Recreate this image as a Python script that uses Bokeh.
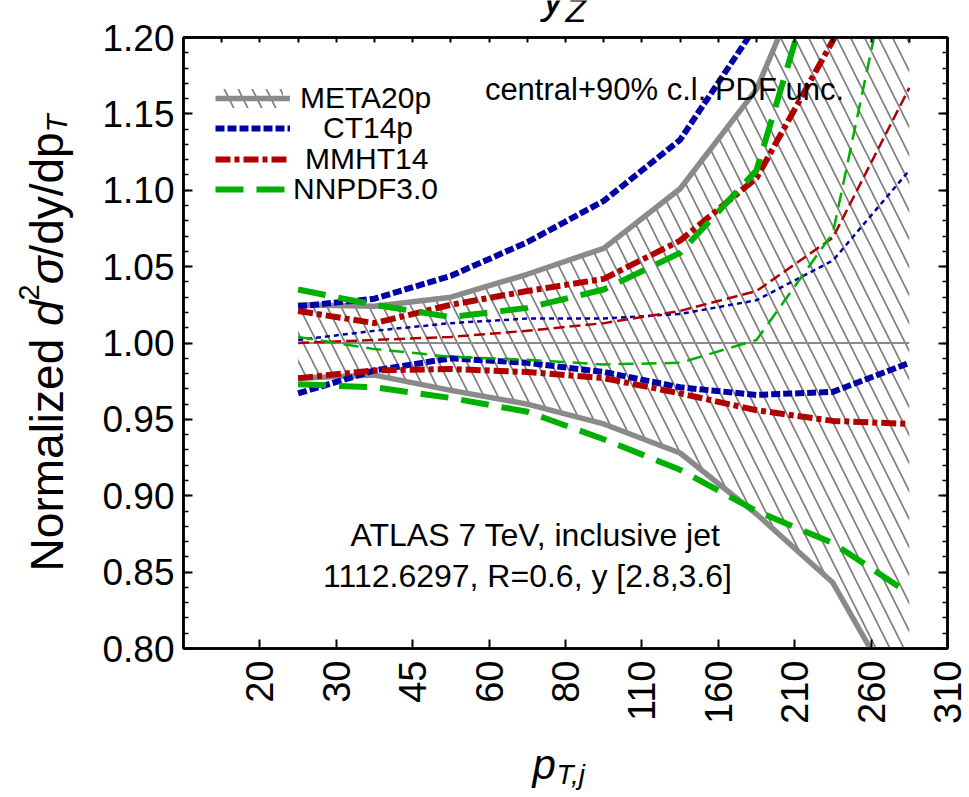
import math
from bokeh.plotting import figure
from bokeh.layouts import column, row
from bokeh.models import (Range1d, LinearAxis, FixedTicker, PrintfTickFormatter,
                          CustomJSTickFormatter, Label, Legend, LegendItem)
from bokeh.embed import file_html
from bokeh.resources import INLINE

# ---------------- data ----------------
pt_edge_labels = ["20", "30", "45", "60", "80", "110", "160", "210", "260", "310"]
edge_index = [1, 2, 3, 4, 5, 6, 7, 8, 9, 10]
bin_pos = [1.5, 2.5, 3.5, 4.5, 5.5, 6.5, 7.5, 8.5, 9.5]   # bin centres between edges

meta_central = [1.000, 1.000, 1.000, 1.000, 1.000, 1.000, 1.000, 1.000, 1.000]
meta_upper   = [1.025, 1.024, 1.030, 1.045, 1.062, 1.101, 1.166, 1.284, 1.400]
meta_lower   = [0.977, 0.979, 0.969, 0.960, 0.947, 0.928, 0.888, 0.843, 0.755]

ct14_central = [1.002, 1.008, 1.013, 1.016, 1.016, 1.019, 1.028, 1.054, 1.113]
ct14_upper   = [1.024, 1.029, 1.044, 1.066, 1.093, 1.133, 1.208, 1.300, 1.400]
ct14_lower   = [0.967, 0.982, 0.990, 0.987, 0.981, 0.971, 0.966, 0.968, 0.987]

mmht_central = [1.000, 1.002, 1.004, 1.008, 1.013, 1.021, 1.034, 1.069, 1.167]
mmht_upper   = [1.021, 1.013, 1.025, 1.034, 1.042, 1.067, 1.108, 1.198, 1.320]
mmht_lower   = [0.977, 0.982, 0.983, 0.981, 0.977, 0.967, 0.956, 0.949, 0.947]

nnpdf_central = [1.004, 0.996, 0.991, 0.989, 0.986, 0.987, 1.002, 1.072, 1.310]
nnpdf_upper   = [1.035, 1.025, 1.017, 1.023, 1.035, 1.059, 1.113, 1.280, 1.400]
nnpdf_lower   = [0.973, 0.971, 0.964, 0.955, 0.937, 0.917, 0.890, 0.869, 0.836]

y_major_ticks = [0.80, 0.85, 0.90, 0.95, 1.00, 1.05, 1.10, 1.15, 1.20]
y_minor_ticks = [round(0.80 + 0.01 * k, 2) for k in range(41)]
top_ticks = [0.5 * k for k in range(1, 20)]

# ---------------- geometry (page pixels) ----------------
W, H = 969, 797
TOP_H = 22          # strip holding the (cut) title
BOT_H = 59          # strip holding the x-axis title
LEFT_W = 93         # strip holding the y-axis title
MAIN_W, MAIN_H = W - LEFT_W, H - TOP_H - BOT_H
FL, FR, FT, FB = 183, 947, 37, 648      # frame edges on the page
X0, X1, Y0, Y1 = 0.0, 10.0, 0.80, 1.20
FW, FH = FR - FL, FB - FT
BASE_K = 0.36       # correction: rendered baseline sits lower than requested

def dx(px):
    return X0 + (px - FL) / FW * (X1 - X0)

def dy(py):
    return Y1 - (py - FT) / FH * (Y1 - Y0)

FONT = "Liberation Sans"
GRAY, BLUE, RED, GREEN = "#8a8a8a", "#0000a8", "#b00000", "#00b000"

p = figure(width=MAIN_W, height=MAIN_H, x_range=Range1d(X0, X1), y_range=Range1d(Y0, Y1),
           output_backend="svg", toolbar_location=None,
           x_axis_location=None, y_axis_location=None,
           min_border_left=FL - LEFT_W, min_border_right=W - FR,
           min_border_top=FT - TOP_H, min_border_bottom=(H - BOT_H) - FB)
p.outline_line_color = "black"
p.outline_line_width = 2.5
p.background_fill_color = "white"
p.border_fill_color = "white"
p.grid.grid_line_color = None
p.grid.visible = False

def style(ax, maj, mnr):
    ax.axis_line_color = "black"
    ax.axis_line_width = 2.5
    ax.major_tick_in = maj
    ax.major_tick_out = 0
    ax.minor_tick_in = mnr
    ax.minor_tick_out = 0
    ax.major_tick_line_width = 2
    ax.minor_tick_line_width = 1.5
    ax.major_tick_line_color = "black"
    ax.minor_tick_line_color = "black"

def blank_axis(ax):
    ax.formatter = CustomJSTickFormatter(code="return ''")
    ax.major_label_text_font_size = "0px"
    ax.major_label_standoff = 0

left = LinearAxis(ticker=FixedTicker(ticks=y_major_ticks, minor_ticks=y_minor_ticks),
                  formatter=PrintfTickFormatter(format="%.2f"))
style(left, 9, 5)
left.major_label_text_font = FONT
left.major_label_text_font_size = "37px"
left.major_label_text_color = "black"
left.major_label_standoff = 9
p.add_layout(left, "left")

right = LinearAxis(ticker=FixedTicker(ticks=y_major_ticks, minor_ticks=y_minor_ticks))
style(right, 9, 5)
blank_axis(right)
p.add_layout(right, "right")

bottom = LinearAxis(ticker=FixedTicker(ticks=edge_index, minor_ticks=[]),
                    major_label_overrides={i: s for i, s in zip(edge_index, pt_edge_labels)})
style(bottom, 9, 0)
bottom.major_label_orientation = math.pi / 2
bottom.major_label_text_font = FONT
bottom.major_label_text_font_size = "38px"
bottom.major_label_text_color = "black"
bottom.major_label_standoff = 12
p.add_layout(bottom, "below")

top = LinearAxis(ticker=FixedTicker(ticks=top_ticks, minor_ticks=[]))
style(top, 5, 0)
blank_axis(top)
p.add_layout(top, "above")

# ---------------- glyphs ----------------
hatch = p.varea(x=bin_pos, y1=meta_lower, y2=meta_upper, fill_color=None, fill_alpha=0,
                hatch_pattern="\\", hatch_color="#808080", hatch_scale=28, hatch_weight=1.7)

def ln(ys, color, width, dash):
    return p.line(bin_pos, ys, line_color=color, line_width=width, line_dash=dash,
                  line_cap="butt", line_join="round")

g_c = ln(meta_central, GRAY, 2.2, "solid")
g_u = ln(meta_upper, GRAY, 5.5, "solid")
g_l = ln(meta_lower, GRAY, 5.5, "solid")

b_c = ln(ct14_central, BLUE, 2.5, "5 4")
b_u = ln(ct14_upper, BLUE, 6, "9 3")
b_l = ln(ct14_lower, BLUE, 6, "9 3")

r_c = ln(mmht_central, RED, 2.5, "11 5")
r_u = ln(mmht_upper, RED, 6, "15 4 5 4")
r_l = ln(mmht_lower, RED, 6, "15 4 5 4")

n_c = ln(nnpdf_central, GREEN, 2.5, "15 8")
n_u = ln(nnpdf_upper, GREEN, 6, "28 13")
n_l = ln(nnpdf_lower, GREEN, 6, "28 13")

# ---------------- legends (one per entry) ----------------
def add_legend(label, renderers, center_py, standoff):
    h = 34
    lg = Legend(items=[LegendItem(label=label, renderers=renderers)],
                location=(215 - FL, FB - (center_py + h / 2)),
                padding=0, margin=0, spacing=0,
                glyph_width=75, glyph_height=24, label_height=24,
                label_standoff=standoff,
                label_text_font=FONT, label_text_font_size="30px", label_text_color="black",
                background_fill_alpha=0, border_line_alpha=0)
    p.add_layout(lg, "center")

add_legend("META20p", [hatch, g_u], 98, 10)
add_legend("CT14p", [b_u], 128, 33)
add_legend("MMHT14", [r_u], 159, 15)
add_legend("NNPDF3.0", [n_u], 189, 3)

# ---------------- text helper (page-pixel targets for the baseline start) ----------------
def lab(fig, px, py, text, size, italic=False, rotated=False, align="left", conv=None):
    if rotated:
        px -= BASE_K * size
        angle = math.pi / 2
    else:
        py -= BASE_K * size
        angle = 0.0
    x, y = (conv(px, py) if conv else (px, py))
    fig.add_layout(Label(x=x, y=y, text=text, text_font=FONT,
                         text_font_size=f"{size}px",
                         text_font_style="italic" if italic else "normal",
                         angle=angle, text_align=align, text_baseline="alphabetic",
                         text_color="black"))

to_data = lambda px, py: (dx(px), dy(py))
lab(p, 664, 100, "central+90% c.l. PDF unc.", 31, align="center", conv=to_data)
lab(p, 535, 546, "ATLAS 7 TeV, inclusive jet", 32, align="center", conv=to_data)
lab(p, 527, 587, "1112.6297, R=0.6, y [2.8,3.6]", 32, align="center", conv=to_data)

# ---------------- strips for texts outside the frame (ranges = page pixels) ----------------
def strip(w, h, x_lo, x_hi, y_top, y_bot, bl, br, bt, bb):
    f = figure(width=w, height=h, x_range=Range1d(x_lo, x_hi), y_range=Range1d(y_bot, y_top),
               output_backend="svg", toolbar_location=None,
               x_axis_location=None, y_axis_location=None,
               min_border_left=bl, min_border_right=br, min_border_top=bt, min_border_bottom=bb)
    f.outline_line_color = None
    f.grid.visible = False
    f.background_fill_color = "white"
    f.border_fill_color = "white"
    return f

# title strip: page x 183..947, y 0..22
top_fig = strip(MAIN_W, TOP_H, FL, FR, 0, TOP_H, FL - LEFT_W, W - FR, 0, 0)
lab(top_fig, 542, 13, "y", 44, italic=True)
lab(top_fig, 565, 22, "Z", 34, italic=True)

# x-title strip: page x 183..947, y 738..797
bot_fig = strip(MAIN_W, BOT_H, FL, FR, H - BOT_H, H, FL - LEFT_W, W - FR, 0, 0)
lab(bot_fig, 532, 779, "p", 42, italic=True)
lab(bot_fig, 556, 784, "T,j", 28, italic=True)

# y-title strip: page x 0..93, y 37..648
left_fig = strip(LEFT_W, H, 0, LEFT_W, FT, FB, 0, 0, FT, H - FB)
fs, fss = 46, 29
pieces = [("Normalized", fs, False, 0, 5.334 * fs),
          ("d", fs, True, 0, 0.556 * fs),
          ("2", fss, False, -0.40 * fs, 0.556 * fss),
          ("σ", fs, True, 0, 0.58 * fs),
          ("/dy/dp", fs, False, 0, 2.724 * fs),
          ("T", fss, True, 0.22 * fs, 0.611 * fss)]
total = sum(pc[4] for pc in pieces)
pos = (FT + FB) / 2 + total / 2
base_x = 63
for txt, size, it, xoff, adv in pieces:
    # keep the common baseline: correct with the large size for every piece
    lab(left_fig, base_x + xoff - BASE_K * (fs - size), pos, txt, size, italic=it, rotated=True)
    pos -= adv

layout = row(left_fig, column(top_fig, p, bot_fig, spacing=0), spacing=0)

open("out.html", "w").write(file_html(layout, INLINE))
